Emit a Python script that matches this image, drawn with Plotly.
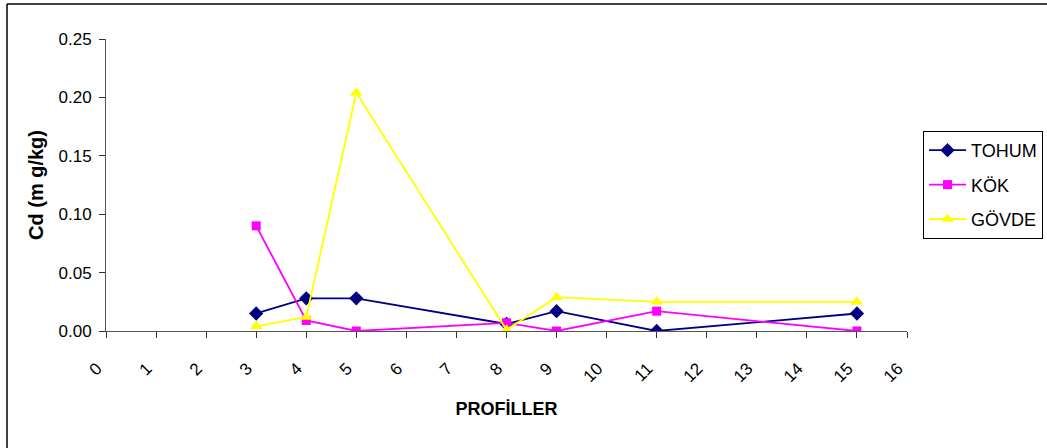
import plotly.graph_objects as go

profiles = [3, 4, 5, 8, 9, 11, 15]
tohum = [0.015, 0.028, 0.028, 0.006, 0.017, 0.000, 0.015]
kok = [0.090, 0.009, 0.000, 0.007, 0.000, 0.017, 0.000]
govde = [0.004, 0.012, 0.204, 0.001, 0.029, 0.025, 0.025]

series = [
    ("TOHUM", tohum, "#000080", "diamond", 11),
    ("KÖK", kok, "#FF00FF", "square", 9),
    ("GÖVDE", govde, "#FFFF00", "triangle-up", 11),
]

fig = go.Figure()
for i, (name, vals, color, sym, sz) in enumerate(series):
    fig.add_trace(go.Scatter(
        x=profiles, y=vals, name=name, mode="lines+markers",
        line=dict(color=color, width=1.8),
        marker=dict(symbol=sym, size=sz, color=color),
        legendgroup=f"g{i}",
    ))

font_family = "Liberation Sans, Arial, sans-serif"
fig.update_layout(
    width=1047, height=448,
    margin=dict(l=106, r=140, t=39, b=117, autoexpand=False),
    paper_bgcolor="white", plot_bgcolor="white",
    font=dict(family=font_family, size=17, color="black"),
    showlegend=True,
    legend=dict(
        x=1.02, y=0.685, xanchor="left", yanchor="top",
        bordercolor="black", borderwidth=1,
        font=dict(size=18), tracegroupgap=8, itemwidth=37,
        bgcolor="white",
    ),
    xaxis=dict(
        range=[0, 16], dtick=1, tick0=0, tickangle=-45,
        showgrid=False, zeroline=False,
        showline=True, linecolor="#555", linewidth=1,
        ticks="outside", ticklen=6, tickcolor="#333",
        tickfont=dict(size=17),
        ticklabelstandoff=14, ticklabelshift=-9,
        title=dict(text="<b>PROFİLLER</b>", font=dict(size=18), standoff=17),
    ),
    yaxis=dict(
        range=[0, 0.25], dtick=0.05, tick0=0, tickformat=".2f",
        showgrid=False, zeroline=False,
        showline=True, linecolor="#555", linewidth=1,
        ticks="outside", ticklen=6, tickcolor="#333",
        tickfont=dict(size=17),
        ticklabelstandoff=4,
        title=dict(text="<b>Cd (m g/kg)</b>", font=dict(size=20), standoff=9),
    ),
    shapes=[
        dict(type="line", xref="paper", yref="paper",
             x0=(7 - 106) / 801, x1=(1047 - 106) / 801 + 0.01,
             y0=(448 - 117 - 4) / 292, y1=(448 - 117 - 4) / 292,
             line=dict(color="black", width=1.5)),
        dict(type="line", xref="paper", yref="paper",
             x0=(7 - 106) / 801, x1=(7 - 106) / 801,
             y0=(448 - 117 - 4) / 292, y1=-117 / 292 - 0.01,
             line=dict(color="black", width=1.5)),
    ],
)

fig.write_html("out.html", config={"displayModeBar": False},
               post_script="document.body.style.margin='0';")
